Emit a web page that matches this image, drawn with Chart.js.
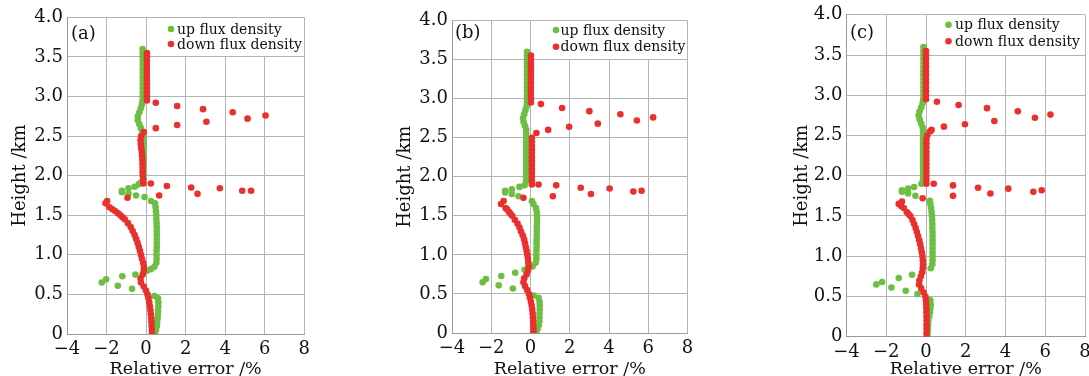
<!DOCTYPE html>
<html><head><meta charset="utf-8">
<script src="https://cdn.jsdelivr.net/npm/chart.js@4/dist/chart.umd.min.js"></script>
<style>
html,body{margin:0;padding:0;background:#fff;overflow:hidden;width:1089px;height:376px;position:relative;}
canvas{position:absolute;top:0;}
</style></head><body>
<canvas id="ca" width="308" height="376" style="left:11px"></canvas>
<canvas id="cb" width="306" height="376" style="left:396px"></canvas>
<canvas id="cc" width="306" height="376" style="left:793px"></canvas>
<script>
// ---------------- data ----------------
const xTickLabels = ['\u22124','\u22122','0','2','4','6','8'];
const yTickLabels = ['0','0.5','1.0','1.5','2.0','2.5','3.0','3.5','4.0'];
const seriesNames = ['up flux density','down flux density'];
const panelLabels = ['(a)','(b)','(c)'];

// heights (km) of the dense profile points
const heights = [
 0.00,0.05,0.10,0.15,0.20,0.25,0.30,0.35,0.40,0.45,
 0.50,0.55,0.60,0.65,0.70,0.75,0.80,0.85,0.90,0.95,
 1.00,1.05,1.10,1.15,1.20,1.25,1.30,1.35,1.40,1.45,
 1.50,1.55,1.60,1.65,1.70,1.75,1.80,1.85,1.90,1.95,
 2.00,2.05,2.10,2.15,2.20,2.25,2.30,2.35,2.40,2.45,
 2.50,2.55,2.60,2.65,2.70,2.75,2.80,2.85,2.90,2.95,
 3.00,3.05,3.10,3.15,3.20,3.25,3.30,3.35,3.40,3.45,
 3.50,3.55,3.60];

// ---- panel (a) ----
const upA = [
 0.45,0.50,0.55,0.56,0.58,0.60,0.60,0.62,0.62,0.60,
 null,null,null,null,null,null,null,0.42,0.52,0.53,
 0.53,0.53,0.54,0.54,0.54,0.54,0.54,0.54,0.53,0.52,
 0.52,0.50,0.48,0.45,null,null,null,null,null,-0.15,
 -0.13,-0.13,-0.13,-0.13,-0.13,-0.13,-0.13,-0.13,-0.13,-0.13,
 -0.13,-0.18,-0.26,-0.34,-0.42,-0.42,-0.34,-0.27,-0.21,-0.18,
 -0.17,-0.17,-0.17,-0.17,-0.17,-0.17,-0.17,-0.17,-0.17,-0.17,
 -0.17,-0.17,-0.18];
const downA = [
 0.30,0.29,0.28,0.27,0.26,0.24,0.22,0.19,0.16,0.12,
 0.07,-0.01,-0.12,-0.26,-0.28,-0.17,-0.12,-0.11,-0.15,-0.21,
 -0.26,-0.31,-0.37,-0.43,-0.50,-0.58,-0.68,-0.78,-0.92,-1.08,
 -1.30,-1.55,-1.85,-2.05,null,null,null,null,-0.14,-0.15,
 -0.17,-0.18,-0.18,-0.18,-0.19,-0.20,-0.22,-0.25,-0.27,-0.28,
 -0.25,-0.12,null,null,null,null,null,null,null,0.04,
 0.04,0.04,0.04,0.04,0.04,0.04,0.04,0.04,0.04,0.04,
 0.04,0.04,null];
const upExtraA = [[0.25,0.82],[0.05,0.80],[-0.54,0.75],[-1.20,0.73],[-2.02,0.69],[-2.24,0.65],[-1.43,0.61],[-0.71,0.57],[0.42,0.48],
 [0.25,1.68],[-0.08,1.73],[-0.51,1.75],[-0.89,1.77],[-1.22,1.79],[-1.22,1.81],[-0.89,1.84],[-0.58,1.86],[-0.37,1.89],[-0.28,1.91]];
const downExtraA = [[-1.97,1.68],[-1.70,1.575],[-1.42,1.525],[-1.19,1.475],
 [0.49,2.92],[1.57,2.88],[2.88,2.84],[4.38,2.80],[6.04,2.76],[5.13,2.72],[3.05,2.68],[1.57,2.64],[0.49,2.60],
 [0.24,1.90],[1.05,1.87],[2.28,1.85],[3.73,1.84],[4.86,1.81],[5.31,1.81],[2.60,1.77],[0.66,1.75],[-0.94,1.72]];

// ---- panel (b) ----
const upB = [
 0.29,0.36,0.42,0.45,0.46,0.46,0.47,0.47,0.46,0.41,
 null,null,null,null,null,null,null,0.10,0.26,0.30,
 0.30,0.30,0.31,0.31,0.31,0.32,0.32,0.32,0.33,0.33,
 0.33,0.32,0.28,0.15,null,null,null,null,null,-0.22,
 -0.22,-0.22,-0.22,-0.22,-0.22,-0.22,-0.22,-0.22,-0.22,-0.22,
 -0.22,-0.22,-0.22,-0.28,-0.35,-0.38,-0.32,-0.26,-0.20,-0.18,
 -0.18,-0.18,-0.18,-0.18,-0.18,-0.18,-0.18,-0.18,-0.18,-0.18,
 -0.18,-0.18,-0.18];
const downB = [
 0.15,0.15,0.14,0.13,0.12,0.11,0.09,0.06,0.02,-0.03,
 -0.08,-0.17,-0.28,-0.36,-0.32,-0.20,-0.13,-0.10,-0.11,-0.13,
 -0.16,-0.20,-0.24,-0.28,-0.33,-0.40,-0.48,-0.56,-0.66,-0.80,
 -0.93,-1.10,-1.27,-1.50,null,null,null,null,0.07,0.07,
 0.07,0.07,0.07,0.07,0.07,0.07,0.07,0.07,0.07,0.07,
 0.07,null,null,null,null,null,null,null,null,0.02,
 0.02,0.02,0.02,0.02,0.02,0.02,0.02,0.02,0.02,0.02,
 0.02,0.02,null];
const upExtraB = [[-0.30,0.81],[-0.78,0.77],[-1.49,0.73],[-2.27,0.69],[-2.44,0.65],[-1.62,0.61],[-0.90,0.57],[0.15,0.48],
 [0.07,1.69],[-0.61,1.75],[-0.95,1.78],[-1.29,1.80],[-1.29,1.82],[-0.95,1.84],[-0.56,1.87],[-0.30,1.89]];
const downExtraB = [[-1.37,1.69],[-1.20,1.585],[-1.02,1.525],
 [0.53,2.93],[1.61,2.88],[3.00,2.84],[4.58,2.80],[6.25,2.76],[5.42,2.72],[3.43,2.68],[1.97,2.64],[0.90,2.60],[0.30,2.56],
 [0.41,1.90],[1.31,1.89],[2.56,1.86],[4.03,1.85],[5.24,1.81],[5.66,1.82],[3.08,1.78],[1.14,1.75],[-0.36,1.73]];

// ---- panel (c) ----
const upC = [
 0.08,0.08,0.09,0.10,0.12,0.16,0.20,0.22,0.24,0.22,
 null,null,null,null,null,null,null,0.24,0.32,0.33,
 0.33,0.33,0.33,0.33,0.33,0.33,0.33,0.32,0.32,0.31,
 0.30,0.28,0.26,0.22,null,null,null,null,null,-0.15,
 -0.15,-0.15,-0.15,-0.15,-0.15,-0.15,-0.15,-0.15,-0.15,-0.15,
 -0.15,-0.15,-0.17,-0.24,-0.32,-0.37,-0.32,-0.24,-0.17,-0.14,
 -0.13,-0.13,-0.13,-0.13,-0.13,-0.13,-0.13,-0.13,-0.13,-0.13,
 -0.13,-0.13,-0.13];
const downC = [
 0.03,0.03,0.03,0.03,0.03,0.03,0.02,0.02,0.01,0.00,
 -0.03,-0.12,-0.24,-0.35,-0.33,-0.26,-0.19,-0.16,-0.15,-0.16,
 -0.18,-0.21,-0.25,-0.29,-0.34,-0.40,-0.46,-0.52,-0.60,-0.68,
 -0.79,-0.97,-1.12,-1.37,null,null,null,null,0.02,0.02,
 0.02,0.02,0.02,0.02,0.02,0.02,0.02,0.02,0.02,0.02,
 0.06,0.20,null,null,null,null,null,null,null,0.00,
 0.00,0.00,0.00,0.00,0.00,0.00,0.00,0.00,0.00,0.00,
 0.00,0.00,null];
const upExtraC = [[-0.70,0.77],[-1.37,0.73],[-2.21,0.68],[-2.50,0.65],[-1.74,0.61],[-1.02,0.57],[-0.43,0.53],[0.19,0.46],
 [0.19,1.69],[-0.53,1.75],[-0.90,1.78],[-1.21,1.80],[-1.21,1.82],[-0.90,1.84],[-0.60,1.86],[-0.23,1.90]];
const downExtraC = [[-1.21,1.68],[-1.25,1.625],[-0.88,1.525],
 [0.55,2.92],[1.64,2.88],[3.07,2.84],[4.62,2.80],[6.26,2.76],[5.48,2.72],[3.44,2.68],[1.96,2.64],[0.90,2.61],[0.28,2.57],
 [0.39,1.90],[1.36,1.88],[2.62,1.85],[4.14,1.84],[5.40,1.80],[5.82,1.82],[3.24,1.78],[1.36,1.75],[-0.17,1.72]];

// ---------------- rendering ----------------
const GREEN = '#6cbf43', RED = '#e9302c', TEXT = '#111111';
const FONT = '"DejaVu Serif", "Liberation Serif", serif';

function toPoints(vals, extra) {
  const pts = [];
  heights.forEach((h, i) => { if (vals[i] !== null) pts.push({x: vals[i], y: h}); });
  extra.forEach(p => pts.push({x: p[0], y: p[1]}));
  return pts;
}

const decor = {
  id: 'decor',
  afterDraw(chart, args, o) {
    const {ctx, chartArea: a, scales: {y}} = chart;
    const rowTop = Math.round(a.top - 0.5);
    const row35 = Math.round(y.getPixelForValue(3.5) - 0.5);
    const colR = Math.round(a.right - 0.5);
    const dotX = a.right - o.dotFromRight;
    const bx = Math.round(dotX - 8);
    ctx.save();
    ctx.fillStyle = '#ffffff';
    ctx.fillRect(bx, rowTop + 1, colR - bx, row35 - rowTop - 1);
    const rows = [[GREEN, seriesNames[0], o.row1], [RED, seriesNames[1], o.row2]];
    ctx.font = '14px ' + FONT;
    ctx.textBaseline = 'middle';
    ctx.textAlign = 'left';
    rows.forEach(([c, t, dy]) => {
      ctx.fillStyle = c;
      ctx.beginPath();
      ctx.arc(dotX, a.top + dy, 3.3, 0, Math.PI * 2);
      ctx.fill();
      ctx.fillStyle = TEXT;
      ctx.fillText(t, dotX + o.textGap, a.top + dy + 1);
    });
    ctx.font = '18px ' + FONT;
    ctx.fillText(o.label, a.left + o.labelX, a.top + o.labelY);
    ctx.restore();
  }
};

function makePanel(id, up, down, upExtra, downExtra, box, deco) {
  const H = 376;
  new Chart(document.getElementById(id), {
    type: 'scatter',
    data: {
      datasets: [
        {label: seriesNames[1], data: toPoints(down, downExtra), backgroundColor: RED, pointRadius: 3.3, pointBorderWidth: 0, order: 0},
        {label: seriesNames[0], data: toPoints(up, upExtra), backgroundColor: GREEN, pointRadius: 3.3, pointBorderWidth: 0, order: 1}
      ]
    },
    options: {
      responsive: false, animation: false, events: [],
      layout: {padding: {top: box.top, right: box.cw - (box.right - box.cl), bottom: 0, left: 0}},
      plugins: {legend: {display: false}, tooltip: {enabled: false}, decor: deco},
      scales: {
        x: {
          type: 'linear', min: -4, max: 8,
          ticks: {stepSize: 2, padding: 5, color: TEXT, font: {family: FONT, size: 18},
                  callback: (v) => xTickLabels[Math.round((v + 4) / 2)]},
          grid: {color: '#b4b4b4', drawTicks: false},
          border: {color: '#9a9a9a'},
          title: {display: true, text: 'Relative error /%', color: TEXT, font: {family: FONT, size: 17.5, lineHeight: 1}, padding: {top: 0, bottom: -2}},
          afterFit: (s) => { s.height = H - box.bottom; }
        },
        y: {
          type: 'linear', min: 0, max: 4,
          ticks: {stepSize: 0.5, padding: 4, color: TEXT, font: {family: FONT, size: 18},
                  callback: (v) => yTickLabels[Math.round(v * 2)]},
          grid: {color: '#b4b4b4', drawTicks: false},
          border: {color: '#9a9a9a'},
          title: {display: true, text: 'Height /km', color: TEXT, font: {family: FONT, size: 18, lineHeight: 1}, padding: {top: 0, bottom: 0}},
          afterFit: (s) => { s.width = box.left - box.cl; }
        }
      }
    },
    plugins: [decor]
  });
}

makePanel('ca', upA, downA, upExtraA, downExtraA,
  {cl: 11, cw: 308, left: 67, right: 304.3, top: 17.3, bottom: 334},
  {dotFromRight: 133.3, textGap: 6, row1: 11.7, row2: 26.7, label: panelLabels[0], labelX: 4, labelY: 17});
makePanel('cb', upB, downB, upExtraB, downExtraB,
  {cl: 396, cw: 306, left: 452, right: 687.5, top: 20.5, bottom: 333},
  {dotFromRight: 131.5, textGap: 4.5, row1: 9.5, row2: 26.2, label: panelLabels[1], labelX: 3, labelY: 13});
makePanel('cc', upC, downC, upExtraC, downExtraC,
  {cl: 793, cw: 306, left: 846.5, right: 1085, top: 14.3, bottom: 336.7},
  {dotFromRight: 136.5, textGap: 6.5, row1: 10, row2: 26.4, label: panelLabels[2], labelX: 3.5, labelY: 19});
</script>
</body></html>
